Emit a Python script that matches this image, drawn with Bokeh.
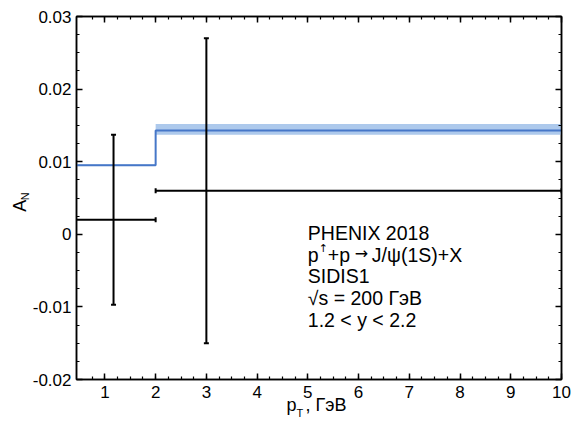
import math
from bokeh.plotting import figure
from bokeh.models import (Range1d, LinearAxis, FixedTicker, CustomJSTickFormatter,
                          Label)
from bokeh.embed import file_html
from bokeh.resources import INLINE

# PHENIX 2018 measurement, p(up)+p -> J/psi(1S)+X
pt_center = [1.17, 3.0]
pt_low = [0.0, 2.0]
pt_high = [2.0, 10.0]
an_value = [0.002, 0.006]
an_error = [0.0117, 0.021]

# SIDIS1 prediction, constant inside each pT bin
bin_edges = [0.0, 2.0, 10.0]
an_model = [0.0095, 0.0143]
an_model_low = [0.0094, 0.0137]
an_model_high = [0.0096, 0.0152]

x_ticks = [1, 2, 3, 4, 5, 6, 7, 8, 9, 10]
x_tick_labels = ["1", "2", "3", "4", "5", "6", "7", "8", "9", "10"]
x_minor = [0.75 + 0.25 * i for i in range(38)]
y_ticks = [-0.02, -0.01, 0.0, 0.01, 0.02, 0.03]
y_tick_labels = ["-0.02", "-0.01", "0", "0.01", "0.02", "0.03"]
y_minor = [-0.02 + 0.0025 * i for i in range(21)]

FONT = "Liberation Sans"

p = figure(width=575, height=423, x_range=Range1d(0.44, 10.0),
           y_range=Range1d(-0.02, 0.03), output_backend="svg",
           toolbar_location=None, min_border_left=76, min_border_right=14,
           min_border_top=16, min_border_bottom=44,
           x_axis_location=None, y_axis_location=None)
p.grid.visible = False
p.outline_line_color = "black"
p.outline_line_width = 1.5
p.background_fill_color = "white"
p.border_fill_color = "white"

label_code = ("const i = tvals.findIndex(t => Math.abs(t - tick) < 1e-9);"
              " return i >= 0 ? tlabels[i] : '';")


def make_axis(tick_values, minor, labels, shown):
    ax = LinearAxis(ticker=FixedTicker(ticks=tick_values, minor_ticks=minor))
    ax.axis_line_color = "black"
    ax.axis_line_width = 1.5
    ax.major_tick_in = 6
    ax.major_tick_out = 0
    ax.minor_tick_in = 3
    ax.minor_tick_out = 0
    ax.major_tick_line_width = 1.5
    ax.minor_tick_line_width = 1.2
    if shown:
        ax.formatter = CustomJSTickFormatter(
            args=dict(tvals=tick_values, tlabels=labels), code=label_code)
        ax.major_label_text_font = FONT
        ax.major_label_text_font_size = "17px"
        ax.major_label_text_color = "black"
    else:
        ax.formatter = CustomJSTickFormatter(code="return '';")
        ax.major_label_text_font_size = "1px"
        ax.major_label_standoff = 0
    return ax


xb = make_axis(x_ticks, x_minor, x_tick_labels, True)
xb.major_label_standoff = 6
p.add_layout(xb, "below")
yl = make_axis(y_ticks, y_minor, y_tick_labels, True)
yl.major_label_standoff = 5
p.add_layout(yl, "left")
p.add_layout(make_axis(x_ticks, x_minor, x_tick_labels, False), "above")
p.add_layout(make_axis(y_ticks, y_minor, y_tick_labels, False), "right")

# model band and step line
p.varea_step(x=bin_edges, y1=an_model_low + [an_model_low[-1]],
             y2=an_model_high + [an_model_high[-1]], step_mode="after",
             fill_color="#adc9ec", fill_alpha=1.0)
p.step(x=bin_edges, y=an_model + [an_model[-1]], mode="after",
       line_color="#4677c8", line_width=2)

# data points with error bars
an_lo = [v - e for v, e in zip(an_value, an_error)]
an_hi = [v + e for v, e in zip(an_value, an_error)]
p.segment(x0=pt_center, y0=an_lo, x1=pt_center, y1=an_hi,
          line_color="black", line_width=2)
p.segment(x0=pt_low, y0=an_value, x1=pt_high, y1=an_value,
          line_color="black", line_width=2)
p.scatter(x=pt_center + pt_center, y=an_lo + an_hi, marker="dash", size=5,
          line_color="black", line_width=2)
p.scatter(x=pt_low + pt_high, y=an_value + an_value, marker="dash", size=5,
          angle=math.pi / 2, line_color="black", line_width=2)

# annotation block
x0 = 5.0
TSIZE = "19.5px"
rows = ["PHENIX 2018", None, "SIDIS1", "\u221as = 200 \u0413\u044d\u0412",
        "1.2 < y < 2.2"]
row_y = [-0.0013, -0.0043, -0.0073, -0.0103, -0.0133]
for txt, yy in zip(rows, row_y):
    if txt is not None:
        p.add_layout(Label(x=x0, y=yy, text=txt, text_font=FONT,
                           text_font_size=TSIZE, text_color="black"))
# reaction line: p(up arrow) + p -> J/psi(1S) + X, built from pieces
reaction = [("p", 0, 0, FONT, TSIZE),
            ("\u2191", 11, 11, "DejaVu Sans", "11px"),
            ("+p", 20, 0, FONT, TSIZE),
            ("\u2192", 47, 3, "DejaVu Sans", "16px"),
            ("J/\u03c8(1S)+X", 64, 0, FONT, TSIZE)]
for txt, dx, dy, fnt, fsz in reaction:
    p.add_layout(Label(x=x0, y=row_y[1], x_offset=dx, y_offset=dy, text=txt,
                       text_font=fnt, text_font_size=fsz, text_color="black"))

# axis titles (drawn in the side panels, which are not clipped to the frame)
p.add_layout(Label(x=4.58, y=-0.0249, text="p\u2002, \u0413\u044d\u0412",
                   text_font=FONT, text_font_size="18px", text_color="black"),
             "below")
p.add_layout(Label(x=4.58, y=-0.0255, x_offset=10, text="T",
                   text_font=FONT, text_font_size="11px", text_color="black"),
             "right")
p.add_layout(Label(x=-0.48, y=0.0031, text="A", angle=math.pi / 2,
                   text_font=FONT, text_font_size="18px", text_color="black"),
             "left")
p.add_layout(Label(x=-0.46, y=0.0047, text="N", angle=math.pi / 2,
                   text_font=FONT, text_font_size="11px", text_color="black"),
             "above")

open("out.html", "w").write(file_html(p, INLINE))
